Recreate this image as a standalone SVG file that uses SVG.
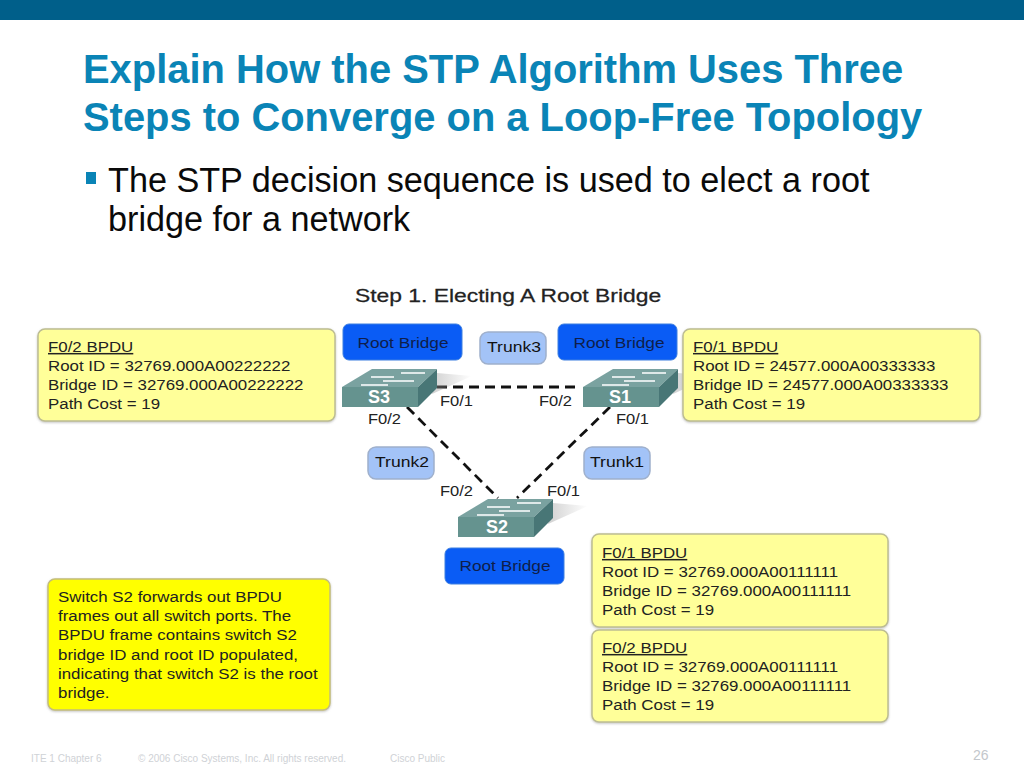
<svg xmlns="http://www.w3.org/2000/svg" width="1024" height="768" viewBox="0 0 1024 768">
<style>
text{font-family:"Liberation Sans",Arial,sans-serif}
.title{font-size:39.9px;font-weight:bold;fill:#0a84b6}
.body{font-size:34.2px;fill:#0a0a0a}
.t{font-size:15px;fill:#222}
.bx{fill:#ffff99;stroke:#bdbd92;stroke-width:1.5;filter:url(#soft)}
.rb{fill:#0a5cf5;stroke:#3d7fe0;stroke-width:1}
.rt{font-size:15px;fill:#0f1e4a;text-anchor:middle}
.tr{fill:#a3c3f7;stroke:#9fb0cc;stroke-width:1.5}
.trt{font-size:15px;fill:#111;text-anchor:middle}
.lk{stroke:#111;stroke-width:2.8;stroke-dasharray:10 6;fill:none}
.foot{font-size:10px;fill:#cfd2d6}
.sw{font-size:18px;font-weight:bold;fill:#fff;text-anchor:middle}
.pl{font-size:15px;fill:#222}
</style>
<defs>
<filter id="soft" x="-5%" y="-5%" width="110%" height="115%"><feDropShadow dx="0" dy="1" stdDeviation="1" flood-color="#888" flood-opacity=".5"/></filter>
<linearGradient id="shd" x1="0" x2="1"><stop offset="0" stop-color="#999" stop-opacity=".45"/><stop offset="1" stop-color="#999" stop-opacity="0"/></linearGradient>
<g id="switch">
<polygon points="95,3 130,6 90,24" fill="url(#shd)"/>
<polygon points="0,17 30,-1 95,-1 76,17" fill="#7aa2a0"/>
<polygon points="76,17 95,-1 95,18 76,37" fill="#487676"/>
<rect x="0" y="17" width="76" height="20" fill="#65938f"/>
<g stroke="#fff" stroke-width="1.5"><path d="M59,3H83M29,7H52M41,11H72M19,15H46"/></g>
</g>
</defs>
<rect width="1024" height="20" fill="#005f8a"/>
<text class="title" x="83" y="83">Explain How the STP Algorithm Uses Three</text>
<text class="title" x="83" y="131">Steps to Converge on a Loop-Free Topology</text>
<rect x="86" y="172" width="10" height="12" fill="#0a84b6"/>
<text class="body" x="108" y="192">The STP decision sequence is used to elect a root</text>
<text class="body" x="108" y="231">bridge for a network</text>
<text transform="translate(355,302) scale(1.27,1)" font-size="18" fill="#222" stroke="#222" stroke-width=".25">Step 1. Electing A Root Bridge</text>
<g id="connectors">
<path class="lk" d="M437,387H581"/>
<path class="lk" d="M407,407L498,498"/>
<path class="lk" d="M610,407L517,498"/>
</g>
<g id="s3"><use href="#switch" x="342" y="370"/><text class="sw" x="379" y="403">S3</text></g>
<g id="s1"><use href="#switch" x="583" y="370"/><text class="sw" x="620" y="403">S1</text></g>
<g id="s2"><use href="#switch" x="458" y="500"/><text class="sw" x="497" y="533">S2</text></g>
<g id="bpdu-s3"><rect class="bx" x="38" y="329" width="297" height="92" rx="7"/>
<g transform="translate(48,0) scale(1.125,1)"><text class="t" y="352" text-decoration="underline">F0/2 BPDU</text><text class="t" y="371.5">Root ID = 32769.000A00222222</text><text class="t" y="390.5">Bridge ID = 32769.000A00222222</text><text class="t" y="409.5">Path Cost = 19</text></g></g>
<g id="bpdu-s1"><rect class="bx" x="683" y="329" width="297" height="92" rx="7"/>
<g transform="translate(693,0) scale(1.125,1)"><text class="t" y="352" text-decoration="underline">F0/1 BPDU</text><text class="t" y="371.5">Root ID = 24577.000A00333333</text><text class="t" y="390.5">Bridge ID = 24577.000A00333333</text><text class="t" y="409.5">Path Cost = 19</text></g></g>
<g id="bpdu-s2-f01"><rect class="bx" x="592" y="534" width="296" height="93" rx="7"/>
<g transform="translate(602,0) scale(1.125,1)"><text class="t" y="558" text-decoration="underline">F0/1 BPDU</text><text class="t" y="577.5">Root ID = 32769.000A00111111</text><text class="t" y="596.5">Bridge ID = 32769.000A00111111</text><text class="t" y="615.5">Path Cost = 19</text></g></g>
<g id="bpdu-s2-f02"><rect class="bx" x="592" y="630" width="296" height="92" rx="7"/>
<g transform="translate(602,0) scale(1.125,1)"><text class="t" y="653" text-decoration="underline">F0/2 BPDU</text><text class="t" y="672.5">Root ID = 32769.000A00111111</text><text class="t" y="691.5">Bridge ID = 32769.000A00111111</text><text class="t" y="710.5">Path Cost = 19</text></g></g>
<g id="note"><rect x="48" y="579" width="282" height="131" rx="7" fill="#ffff00" stroke="#c4bd7a" stroke-width="1.5" filter="url(#soft)"/>
<g transform="translate(58,0) scale(1.125,1)"><text class="t" y="602">Switch S2 forwards out BPDU</text><text class="t" y="621">frames out all switch ports. The</text><text class="t" y="640">BPDU frame contains switch S2</text><text class="t" y="660">bridge ID and root ID populated,</text><text class="t" y="679">indicating that switch S2 is the root</text><text class="t" y="698">bridge.</text></g></g>
<g id="rb-s3"><rect class="rb" x="343" y="324" width="119" height="36" rx="6"/><text class="rt" transform="translate(403,347.5) scale(1.15,1)">Root Bridge</text></g>
<g id="rb-s1"><rect class="rb" x="558" y="324" width="119" height="36" rx="6"/><text class="rt" transform="translate(619,347.5) scale(1.15,1)">Root Bridge</text></g>
<g id="rb-s2"><rect class="rb" x="445" y="548" width="119" height="36" rx="6"/><text class="rt" transform="translate(505,571) scale(1.15,1)">Root Bridge</text></g>
<g id="trunk3"><rect class="tr" x="480" y="332" width="66" height="32" rx="8"/><text class="trt" transform="translate(514,352) scale(1.17,1)">Trunk3</text></g>
<g id="trunk2"><rect class="tr" x="368" y="447" width="66" height="32" rx="8"/><text class="trt" transform="translate(402,467) scale(1.17,1)">Trunk2</text></g>
<g id="trunk1"><rect class="tr" x="584" y="447" width="66" height="32" rx="8"/><text class="trt" transform="translate(617,467) scale(1.17,1)">Trunk1</text></g>
<g>
<text class="pl" transform="translate(440,406) scale(1.1,1)">F0/1</text><text class="pl" transform="translate(539,406) scale(1.1,1)">F0/2</text><text class="pl" transform="translate(368,424) scale(1.1,1)">F0/2</text><text class="pl" transform="translate(616,424) scale(1.1,1)">F0/1</text><text class="pl" transform="translate(440,496) scale(1.1,1)">F0/2</text><text class="pl" transform="translate(547,496) scale(1.1,1)">F0/1</text>
</g>
<text class="foot" x="31" y="762">ITE 1 Chapter 6</text>
<text class="foot" x="138" y="762">© 2006 Cisco Systems, Inc. All rights reserved.</text>
<text class="foot" x="390" y="762">Cisco Public</text>
<text x="973" y="760" font-size="14" fill="#c3c7cc">26</text>
</svg>
